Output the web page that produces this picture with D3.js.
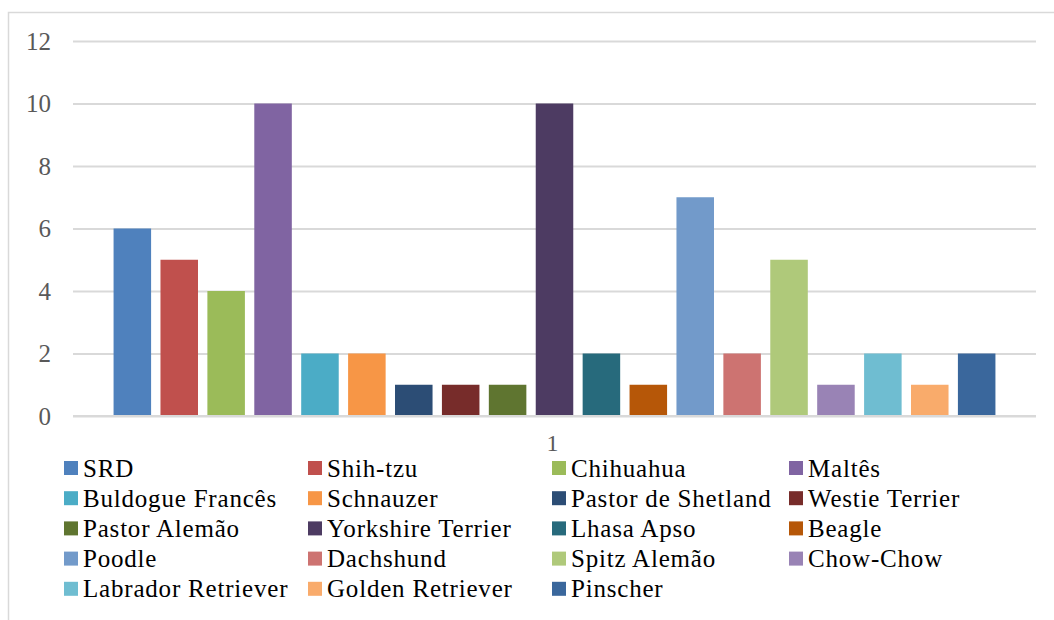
<!DOCTYPE html>
<html>
<head>
<meta charset="utf-8">
<script src="https://cdn.jsdelivr.net/npm/d3@7"></script>
<style>
    body { margin: 0; background: #fff; }
    svg { display: block; }
</style>
</head>
<body>
<div id="chart"></div>
<script>
// data
var categories = ["1"];
var breeds = ["SRD", "Shih-tzu", "Chihuahua", "Maltês", "Buldogue Francês", "Schnauzer",
    "Pastor de Shetland", "Westie Terrier", "Pastor Alemão", "Yorkshire Terrier", "Lhasa Apso",
    "Beagle", "Poodle", "Dachshund", "Spitz Alemão", "Chow-Chow", "Labrador Retriever",
    "Golden Retriever", "Pinscher"];
var counts = [6, 5, 4, 10, 2, 2, 1, 1, 1, 10, 2, 1, 7, 2, 5, 1, 2, 1, 2];
var yTicks = [0, 2, 4, 6, 8, 10, 12];
var colors = ["#4F81BD", "#C0504D", "#9BBB59", "#8064A2", "#4BACC6", "#F79646",
    "#2C4D75", "#772C2A", "#5F7530", "#4D3B62", "#276A7C", "#B65708",
    "#729ACA", "#CD7371", "#AFC97A", "#9983B5", "#6FBDD1", "#F9AB6B", "#3A679C"];

function drawChart() {
    var w = 1054, h = 620;
    var plot = { left: 73, right: 1036, top: 41, bottom: 416 };

    var svg = d3.select("#chart")
        .append("svg")
        .attr("width", w)
        .attr("height", h);

    // outer frame (only left and top visible)
    svg.append("path")
        .attr("d", "M8.5,620 L8.5,12.5 L1054,12.5")
        .attr("fill", "none")
        .attr("stroke", "#d9d9d9")
        .attr("stroke-width", 1.5);

    var yScale = d3.scaleLinear()
        .domain([0, 12])
        .range([plot.bottom, plot.top]);

    var x0 = d3.scaleBand()
        .domain(categories)
        .range([plot.left, plot.right])
        .paddingInner(0)
        .paddingOuter(0.046);

    var x1 = d3.scaleBand()
        .domain(breeds)
        .range([0, x0.bandwidth()])
        .paddingInner(0.2)
        .paddingOuter(0);

    var color = d3.scaleOrdinal().domain(breeds).range(colors);

    // gridlines + y labels
    var yAxis = svg.append("g")
        .attr("transform", `translate(${plot.left},0)`)
        .call(d3.axisLeft(yScale).tickValues(yTicks).tickSize(-(plot.right - plot.left)).tickPadding(22));
    yAxis.select(".domain").remove();
    yAxis.selectAll(".tick line")
        .attr("stroke", "#d9d9d9")
        .attr("stroke-width", 2);
    yAxis.selectAll(".tick text")
        .attr("fill", "#595959")
        .style("font-family", "'Liberation Serif', serif")
        .style("font-size", "25px");

    // bars
    var data = breeds.map((b, i) => ({ name: b, value: counts[i] }));
    svg.append("g")
        .selectAll("rect")
        .data(data)
        .enter()
        .append("rect")
        .attr("x", d => x0("1") + x1(d.name))
        .attr("y", d => yScale(d.value))
        .attr("width", x1.bandwidth())
        .attr("height", d => yScale(0) - yScale(d.value))
        .attr("fill", d => color(d.name));

    // baseline over bars
    svg.append("line")
        .attr("x1", plot.left).attr("x2", plot.right)
        .attr("y1", yScale(0)).attr("y2", yScale(0))
        .attr("stroke", "#d9d9d9")
        .attr("stroke-width", 2);

    // category label
    svg.selectAll(".cat")
        .data(categories)
        .enter()
        .append("text")
        .attr("x", d => x0(d) + x0.bandwidth() / 2 - 2)
        .attr("y", 451)
        .attr("text-anchor", "middle")
        .attr("fill", "#595959")
        .style("font-family", "'Liberation Serif', serif")
        .style("font-size", "24px")
        .text(d => d);

    // legend
    var colX = [64, 308, 552, 789];
    var legend = svg.append("g")
        .selectAll("g")
        .data(data)
        .enter()
        .append("g")
        .attr("transform", (d, i) => `translate(${colX[i % 4]},${468 + Math.floor(i / 4) * 30.2})`);

    legend.append("rect")
        .attr("x", 0)
        .attr("y", -7)
        .attr("width", 14)
        .attr("height", 14)
        .attr("fill", d => color(d.name));

    legend.append("text")
        .attr("x", 19)
        .attr("y", 8.5)
        .attr("fill", "#000")
        .style("font-family", "'Liberation Serif', serif")
        .style("font-size", "25px")
        .style("letter-spacing", "0.8px")
        .text(d => d.name);
}

drawChart();
</script>
</body>
</html>
